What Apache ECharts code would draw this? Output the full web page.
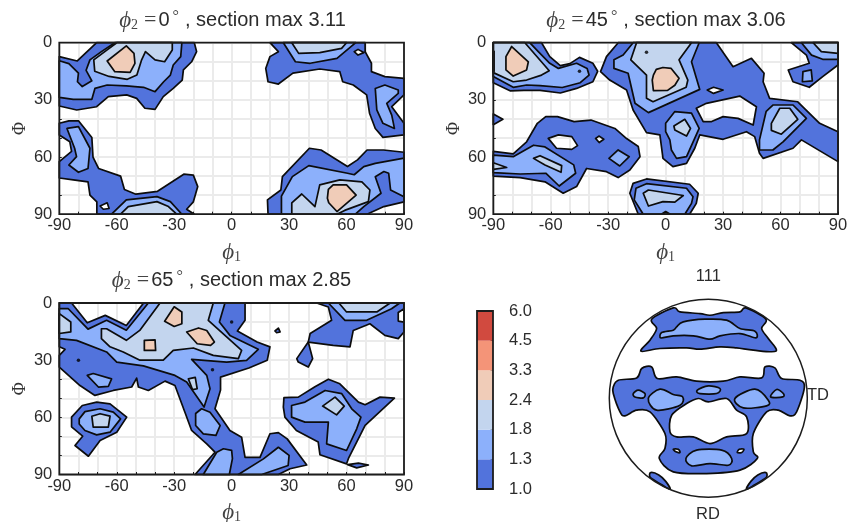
<!DOCTYPE html>
<html><head><meta charset="utf-8">
<style>html,body{margin:0;padding:0;background:#fff}#c{width:856px;height:522px}</style>
<script src="https://cdn.jsdelivr.net/npm/echarts@6/dist/echarts.min.js"></script>
</head><body><div id="c"></div>
<script>
// contour level fills and colour-bar ticks
const levelColors = ['#5273dc','#8cb0fb','#c3d5ee','#f0ccb8','#f49478','#d14a3f'];
const colorbarTicks = ['1.0','1.3','1.8','2.4','3.3','4.5','6.0'];
const phi1Ticks = [-90,-60,-30,0,30,60,90];
const PhiTicks = [0,30,60,90];
const sectionPhi2 = ['0','45','65'];
const sectionMax = ['3.11','3.06','2.85'];

// ---- section phi2 = 0 : [phi1, Phi]
const s0_a1=[[-90,7.3],[-80.6,9.6],[-70.5,0],[-19.5,0],[-18.3,4.7],[-20.9,10],[-25.2,14.3],[-25.8,19.6],[-30.5,24],[-35.7,28.3],[-40,35],[-45.3,34.4],[-49.6,29.2],[-54.8,27.4],[-64.4,28.3],[-70.5,33.6],[-80.9,35.3],[-90,33.2]];
const s0_a2=[[-90,9.5],[-85,11],[-80,16],[-80.5,20.5],[-78,23],[-73,20],[-76,14.5],[-74,9],[-68,4.7],[-61,0],[-26,0],[-26.6,7.3],[-30.5,11.7],[-32,17],[-35.5,20.5],[-40,25.7],[-46,23.4],[-55,22.7],[-65,22.2],[-71.4,24],[-73,29.7],[-82.7,29.7],[-90,28.7]];
const s0_a3=[[-72,9],[-65,3.8],[-60,0],[-31,0],[-31,3.8],[-35,10],[-40,9],[-45,4.7],[-47,9],[-49.5,17],[-54.5,19.2],[-64,17.7],[-71.5,15]];
const s0_a4=[[-65,9.6],[-55,1.7],[-51,5.6],[-50.5,10.8],[-53,15.6],[-61,15.2]];
const s0_b1=[[20,0],[69.7,0],[69.7,4.7],[73,10.8],[73,15.2],[80,17.8],[90,18.7],[90,27.4],[83.6,33.6],[90,42.3],[90,48.4],[79,49.7],[75,45],[72,37],[70.5,27.4],[63.5,22.2],[58,20.5],[56.5,15.2],[46,13.8],[32,16],[24.4,21.7],[19,20.5],[17.8,13.5],[20,7.3],[24.4,4.7]];
const s0_b1h=[[64,4.7],[66,3.5],[69,5.2],[66,6.5]];
const s0_b2=[[27,0],[33.3,10],[41,10.8],[55,8.2],[64.8,0]];
const s0_b3=[[31.4,0],[35,5.6],[46,5.2],[57.4,3],[60,0]];
const s0_c2=[[75,24],[80,22.2],[87,24.8],[87,26.6],[81,31.8],[83.6,38],[85,45],[79,42.3],[75.8,35.3]];
const s0_d1=[[-90,42.3],[-85,41],[-80,41],[-73,49.7],[-72.4,60],[-69.5,66],[-58,70],[-56,77],[-50,79.5],[-38.7,78],[-25,69],[-20,69.5],[-17.7,75.5],[-20,83.5],[-23.5,87.4],[-19.5,90],[-70.4,90],[-70.4,83.5],[-74,80],[-75,73],[-82.7,72],[-90,71],[-90,62.4],[-83.6,57],[-84.5,52],[-90,48.4]];
const s0_d1h=[[-68.7,85.7],[-65,84],[-64,87],[-67,87.4]];
const s0_d2=[[-86,45],[-80,44],[-74,55.4],[-75,66],[-80,68],[-85,64.2],[-81,59.8],[-82,55.4]];
const s0_e2=[[-62.7,90],[-55,82.5],[-39,80.8],[-32,83.4],[-26,90]];
const s0_e3=[[-58,90],[-54,86],[-39,83.4],[-33,86],[-28.7,90]];
const s0_f1=[[19,90],[18.7,82.5],[25.7,77.3],[26.5,70.3],[40.6,55.4],[46.7,56.3],[60.5,65],[65.7,61.5],[70.7,56.3],[79.3,56.3],[90,57.5],[90,83.5],[79.5,86],[70.7,90]];
const s0_f2=[[26,90],[26,80.5],[31.7,70.3],[40.3,64.5],[60.5,68.5],[64,69.3],[69,65],[75,63.3],[90,60.6],[90,80.8],[83,77.3],[82,68.5],[79.5,67.6],[75,70.3],[78,79],[69,86],[64.6,90]];
const s0_f3=[[31.4,90],[31.4,84],[36.6,79.4],[43.5,86],[46,74.6],[56.5,72],[68,73],[72.2,77.3],[71.4,83.4],[59,88],[55,90]];
const s0_f4=[[50,81.6],[50.5,77],[53,74.6],[60,74.6],[65,80],[60,84.3],[55,88.6],[50.7,84]];

// ---- section phi2 = 45
const s1_a1=[[-90,0],[-64.8,0],[-60.5,7.3],[-55,12],[-50,11],[-45,7.7],[-38,10.8],[-35.5,15],[-38,20.5],[-46.5,24],[-55,26.4],[-65.6,25],[-74,25],[-81,25.3],[-90,21]];
const s1_a2=[[-90,0],[-71,0],[-66.5,4.7],[-60.5,10.8],[-56,13.5],[-46.5,10.8],[-41,13.5],[-40,17],[-44.6,21],[-54,23.5],[-65.6,22.5],[-72.6,22.2],[-79.6,23.4],[-90,17.8]];
const s1_a3=[[-90,0],[-73.5,0],[-60.8,14.7],[-64.8,17],[-72.6,19.6],[-79.6,20.5],[-90,15.7]];
const s1_a4=[[-80.4,2],[-71.7,10],[-72.6,14.3],[-79.6,17.5],[-83.4,14.3],[-83.4,7.3]];
const s1_a4b=[[-90,4.5],[-89.6,4.5],[-89.6,15],[-90,15]];
const s1_b1=[[-24.8,0],[-30.9,7.3],[-34,15.2],[-29.2,19.6],[-20.4,24.8],[-17,35.3],[-10,47.2],[-3,48.4],[-2.2,54.5],[-1.4,60.7],[3.8,65],[10.9,63.3],[15.2,55.4],[17.8,48.4],[30,50.7],[42.2,46.7],[46.5,49.3],[49,58],[50.9,60.7],[66.5,55.4],[70.9,51],[90,62.4],[90,46.7],[80.4,42.3],[69,31],[54.3,29.2],[50.9,20.5],[51.4,16],[44.8,8.2],[35.2,12.6],[26.5,0]];
const s1_b1h=[[16,34.4],[21.3,31.8],[38.7,28],[47.4,33.6],[45.7,43.2],[37.8,39.7],[30,38.8],[24,41.4],[19.6,41.4]];
const s1_b1k=[[21.7,24.8],[25,23.4],[30,24.8],[25,26.6]];
const s1_b2=[[-17,0],[-22.2,6.5],[-27,9],[-27,13.5],[-19.6,16],[-16,31.8],[-9,36.7],[17.8,24.5],[13.5,10],[17.5,0]];
const s1_b3=[[-15.2,0],[-18.2,9],[-10,17],[-10,29.2],[-6.6,31],[10.7,23.4],[11.6,19.6],[7,9],[13.5,0]];
const s1_b4=[[-4.9,14],[-1.4,13],[2.9,13.5],[7,18.7],[4.8,22.3],[1,25],[-6.4,25.2],[-7,19.6],[-6.4,17]];
const s1_c2=[[0,42.3],[4.7,36.2],[13.5,37],[17.5,45],[10.9,59.8],[5.7,60.7],[3,56.3],[2.2,51],[0,46.7]];
const s1_c3=[[4.3,43.7],[10,40.2],[13,45],[10.9,49],[4.8,45.8]];
const s1_d2=[[49,51],[52.5,36],[56,32.7],[66.5,32.7],[73.5,39.7],[61.3,52],[56,56.3],[49,56.3]];
const s1_d3=[[55.2,42.3],[59.6,34.4],[64.8,34.4],[69,40.2],[60.4,48],[55.2,46]];
const s1_e1=[[65.6,0],[73.5,6.5],[75,10.8],[64,14.3],[66.5,20.5],[75,23.4],[82,17.8],[90,11.7],[90,0]];
const s1_e2=[[70.9,0],[76.2,6.5],[82,8.7],[90,8.7],[90,0]];
const s1_e3=[[77,0],[81.3,4.7],[90,5.6],[90,0]];
const s1_e2b=[[71.7,15.2],[76,14.3],[76.6,20],[71.4,20.5]];
const s1_f1=[[-90,37.4],[-85,40.2],[-90,43]];
const s1_g1=[[-90,57],[-79.6,58.3],[-72.6,52],[-67,42.3],[-62.6,38.8],[-56.5,38.8],[-47.8,41.4],[-39,40.6],[-26.5,45],[-20.4,50.3],[-14.3,54.5],[-13.4,59.8],[-18.7,66.8],[-24.8,70.8],[-30.9,67.7],[-41.3,66],[-46.5,75.5],[-53.5,79],[-63,73],[-76,70.8],[-90,70]];
const s1_g1h=[[-61.3,50.2],[-56,48.4],[-49,49.3],[-46,54],[-49,56],[-57,55.4]];
const s1_g1k=[[-36.6,50.2],[-34.7,49],[-32.3,50.7],[-34.7,52.4]];
const s1_g2=[[-90,59],[-79.6,59.8],[-69,53.8],[-63,54.7],[-48,64.1],[-47,68.5],[-55.6,75.2],[-62.6,68.5],[-76,68.9],[-90,68.2]];
const s1_g3=[[-69,60.7],[-65.6,59.3],[-54.3,64.5],[-54.6,68],[-63,64.2]];
const s1_g3b=[[-90,63],[-83,65.5],[-90,66.5]];
const s1_g2b=[[-29.6,60.7],[-24.8,56.3],[-19,59.8],[-24,64.7]];
const s1_h1=[[-14.3,90],[-18.7,79],[-17,73.8],[-10,71.5],[12.5,74.3],[17,79],[16,84.3],[12.5,90]];
const s1_h2=[[-11.7,90],[-16.4,82.5],[-15.5,76.4],[-10,74],[10.9,76.4],[14.3,80.8],[13.5,84.3],[10,90]];
const s1_h3=[[-11.7,79],[-9,77.3],[9.2,80.2],[4.8,83.7],[-1.4,83.4],[-9,85.7]];
const s1_h3b=[[-2.2,90],[0,88.6],[2.4,90]];
const s1_dots=[[-45,15],[-10,5]];

// ---- section phi2 = 65
const s2_a1=[[-90,0],[-83.6,0],[-75.4,10.4],[-66,6.5],[-55,11.8],[-46,0],[7,0],[7,9],[3,14.7],[13.3,20.5],[20,23],[18.6,30],[9,34.1],[-5.8,38.9],[-5.8,45.7],[-8.7,55.5],[-0.9,66.9],[5.2,70.4],[7,81],[14.8,81],[20,68.6],[24.4,68],[29,71.3],[39.2,85],[30.5,87],[24.4,90],[-19.1,90],[-8.7,78.3],[-13,73.9],[-20.9,66.9],[-24.4,57.3],[-29.6,43.3],[-34.8,41],[-43.5,45.9],[-48.7,44.1],[-49.6,39.4],[-52.2,44.1],[-61.8,45.9],[-71.4,48.5],[-79.2,43.3],[-90,33.6],[-90,27.5],[-87,24.3],[-90,23]];
const s2_a2=[[-90,3],[-85.3,3],[-75,13.7],[-65.3,9.1],[-55,14.3],[-43.5,0],[-3.5,0],[-6.4,10],[-0.9,17],[13.9,24.3],[7.8,30.1],[-2.6,31],[-20.9,29.6],[-13,38],[-11.3,45],[-14.4,54.6],[-23.5,41.5],[-29.6,38],[-46.1,33],[-60,31],[-65.3,25.7],[-81,19.6],[-90,18.7]];
const s2_a3=[[-68,13.5],[-65.3,13.5],[-55,19.6],[-48,14.4],[-37.4,0],[-9.6,0],[-12.2,9.1],[5.2,24.9],[3.5,29.2],[-9.6,27.5],[-20,23.6],[-30.5,24.9],[-35.7,30],[-47.9,30],[-56.6,25.7],[-63.5,23],[-68,18.7]];
const s2_a3b=[[-90,5.6],[-84,10],[-84,15.2],[-90,16]];
const s2_p1=[[-35,9.6],[-30,2],[-26,4.7],[-26,10.9],[-30,12.3]];
const s2_p2=[[-23.5,15.2],[-17.3,13.1],[-13,14.4],[-9,20.5],[-11,22.2],[-18,21.4]];
const s2_p3=[[-45.6,19.6],[-40,19.3],[-39.7,24.9],[-45.6,24.9]];
const s2_r3=[[-22.6,39.8],[-19,39],[-18,45],[-20.4,45.5]];
const s2_r2=[[-18.8,58],[-15.7,55.5],[-11.3,57.3],[-6,64.3],[-8.2,69.5],[-14.8,68.7],[-18.8,64.3]];
const s2_t2=[[-14.8,90],[-7.8,78.3],[-4.3,76.5],[0,77.3],[0.4,81.7],[-1.2,90]];
const s2_u2=[[3.5,90],[16.6,81.8],[24.4,75.7],[30,80],[29.5,85.3],[15.7,90]];
const s2_v2=[[-75.4,38],[-72.3,37],[-62.7,39.8],[-64.4,43.8],[-69.6,44.1]];
const s2_w1=[[-83.6,59.9],[-78,53.8],[-70.5,52],[-63.5,52.9],[-54.8,59.9],[-60,67.8],[-68.7,72.2],[-74.8,80.4],[-81.8,74.8],[-77.8,69.9],[-83.6,65]];
const s2_w2=[[-79.6,60.8],[-76.6,57],[-68.7,55.5],[-61.8,57.3],[-58,60.8],[-63.5,67.8],[-70.5,69.2],[-76.6,66.9],[-79.6,63.5]];
const s2_w3=[[-73,59.4],[-68.7,58.1],[-63.5,59.4],[-64.4,65.1],[-72.3,65.1]];
const s2_x1=[[44.4,0],[50.5,2.1],[52.2,9.1],[41,16],[40,20.5],[53,22.2],[61.8,23],[63.5,14.4],[72.2,10.9],[80,17],[87,18.7],[90,15.2],[90,0]];
const s2_x1h=[[90,3],[87,5],[87,9.5],[90,10]];
const s2_x2=[[50.5,0],[59.2,9.1],[70.5,9.1],[83.5,3],[87.8,0]];
const s2_x3=[[56,0],[60,4.7],[75.8,4.7],[82.8,0]];
const s2_y1=[[34,29.2],[40,20.5],[42.3,29.2],[40,33.6],[34.8,31]];
const s2_z1=[[22.6,14.7],[24.4,13.2],[25.3,15.2],[23.5,15.6]];
const s2_m1=[[27.3,49.7],[34.8,49.4],[43.5,44],[50.5,40],[56.5,42.4],[66.2,52],[69.7,53.4],[77.5,49.4],[85,49.9],[69.7,64.2],[61,81.6],[60,84.4],[46.1,79.6],[45.2,73],[33.8,66.9],[27.8,59.9],[27,54.6]];
const s2_m2=[[31.3,53.8],[38.3,52],[48.8,45.9],[57.5,47.6],[62.7,55.5],[67.5,59.9],[65.3,66],[60,77.4],[49.6,73.9],[50.5,62.5],[38.3,62.5],[31.3,59.9]];
const s2_m3=[[47.5,54.1],[54,49.4],[58.8,54.1],[54.8,58.7]];
const s2_l1=[[60.6,84.8],[66.2,84],[71.4,85],[65.3,86.5]];
const s2_dots=[[-80,30],[-10,35],[0,10]];

// ---- 111 pole figure, unit disc
const pf_top1=[[-0.354,0.912],[-0.286,0.872],[-0.084,0.855],[0.017,0.838],[0.152,0.865],[0.32,0.872],[0.38,0.912],[0.582,0.798],[0.539,0.704],[0.606,0.603],[0.684,0.475],[0.455,0.485],[0.286,0.508],[0.118,0.519],[-0.084,0.495],[-0.219,0.508],[-0.488,0.502],[-0.68,0.475],[-0.589,0.586],[-0.522,0.704],[-0.572,0.798]];
const pf_top2=[[-0.32,0.72],[-0.253,0.771],[-0.034,0.798],[0.185,0.788],[0.32,0.704],[0.471,0.677],[0.481,0.609],[0.32,0.653],[0.118,0.63],[0.017,0.596],[-0.152,0.63],[-0.354,0.63],[-0.478,0.609],[-0.471,0.663],[-0.354,0.687]];
const pf_mid1=[[-0.96,0.114],[-0.909,0.182],[-0.724,0.205],[-0.673,0.3],[-0.572,0.316],[-0.515,0.199],[-0.32,0.215],[-0.118,0.172],[0.152,0.172],[0.32,0.215],[0.539,0.205],[0.572,0.316],[0.673,0.306],[0.741,0.199],[0.926,0.182],[0.97,0.104],[0.892,-0.138],[0.825,-0.178],[0.707,-0.121],[0.589,-0.138],[0.455,-0.357],[0.455,-0.542],[0.495,-0.609],[0.32,-0.727],[-0.017,-0.761],[-0.354,-0.744],[-0.495,-0.609],[-0.438,-0.508],[-0.438,-0.357],[-0.589,-0.138],[-0.724,-0.121],[-0.842,-0.178],[-0.892,-0.138],[-0.96,0.047]];
const pf_hole=[[-0.37,-0.172],[-0.219,-0.054],[-0.101,-0.003],[0,-0.037],[0.185,-0.003],[0.286,-0.121],[0.387,-0.189],[0.387,-0.357],[0.185,-0.391],[0.017,-0.458],[-0.152,-0.391],[-0.32,-0.391],[-0.387,-0.34]];
const pf_tinyL=[[-0.354,-0.515],[-0.303,-0.515],[-0.286,-0.549],[-0.327,-0.542]];
const pf_tinyR=[[0.293,-0.549],[0.313,-0.515],[0.36,-0.515],[0.337,-0.549]];
const pf_i1=[[-0.758,0.047],[-0.707,0.081],[-0.64,0.047],[-0.657,0.003],[-0.741,0.013]];
const pf_i2=[[-0.606,-0.003],[-0.488,0.091],[-0.354,0.037],[-0.259,0.013],[-0.286,-0.071],[-0.522,-0.121]];
const pf_i3=[[-0.111,0.081],[0,0.125],[0.118,0.098],[0.084,0.047],[-0.084,0.047]];
const pf_i4=[[0.269,-0.003],[0.471,0.091],[0.606,-0.02],[0.589,-0.077],[0.354,-0.098]];
const pf_i5=[[0.63,0.013],[0.69,0.088],[0.758,0.047],[0.751,0.013]];
const pf_i6=[[-0.226,-0.609],[-0.118,-0.525],[0.135,-0.525],[0.236,-0.609],[0.202,-0.677],[0.017,-0.66],[-0.168,-0.684]];
const pf_wl=[[-0.582,-0.751],[-0.5,-0.775],[-0.43,-0.84],[-0.385,-0.92],[-0.47,-0.875],[-0.55,-0.825],[-0.59,-0.795]];
const pf_wr=[[0.385,-0.92],[0.43,-0.84],[0.5,-0.775],[0.582,-0.751],[0.59,-0.795],[0.55,-0.825],[0.47,-0.875]];

// contour regions per plot: [level, outer ring, ...hole rings]
const section0=[[0,s0_a1],[1,s0_a2],[2,s0_a3],[3,s0_a4],[0,s0_b1,s0_b1h],[1,s0_b2],[2,s0_b3],[1,s0_c2],[0,s0_d1,s0_d1h],[1,s0_d2],[1,s0_e2],[2,s0_e3],[0,s0_f1],[1,s0_f2],[2,s0_f3],[3,s0_f4]];
const section1=[[0,s1_a1],[1,s1_a2],[2,s1_a3],[3,s1_a4],[3,s1_a4b],[0,s1_b1,s1_b1h,s1_b1k],[1,s1_b2],[2,s1_b3],[3,s1_b4],[1,s1_c2],[2,s1_c3],[1,s1_d2],[2,s1_d3],[0,s1_e1],[1,s1_e2],[2,s1_e3],[1,s1_e2b],[0,s1_f1],[0,s1_g1,s1_g1h,s1_g1k],[1,s1_g2],[2,s1_g3],[2,s1_g3b],[1,s1_g2b],[0,s1_h1],[1,s1_h2],[2,s1_h3],[2,s1_h3b]];
const section2=[[0,s2_a1],[1,s2_a2],[2,s2_a3],[2,s2_a3b],[3,s2_p1],[3,s2_p2],[3,s2_p3],[2,s2_r3],[1,s2_r2],[1,s2_t2],[1,s2_u2],[1,s2_v2],[0,s2_w1],[1,s2_w2],[2,s2_w3],[0,s2_x1,s2_x1h],[1,s2_x2],[2,s2_x3],[0,s2_y1],[0,s2_z1],[0,s2_m1],[1,s2_m2],[2,s2_m3],[0,s2_l1]];
const poleFigure=[[0,pf_top1],[1,pf_top2],[0,pf_mid1,pf_hole,pf_tinyL,pf_tinyR],[1,pf_i1],[1,pf_i2],[1,pf_i3],[1,pf_i4],[1,pf_i5],[1,pf_i6],[0,pf_wl],[0,pf_wr]];

const INK='#1c1c1c', TXT='#2b2b2b', SANS='"Liberation Sans",Arial,sans-serif', SERIF='"Liberation Serif",serif';
const plots=[{l:59.3,t:42.7},{l:493.3,t:42.7},{l:59.3,t:303}];
const PW=344.7, PH=171.5;

function signedArea(p){let a=0;for(let i=0;i<p.length;i++){const q=p[(i+1)%p.length];a+=p[i][0]*q[1]-q[0]*p[i][1];}return a;}
function ringPath(pts,wantPositive,smooth){
  let p=pts.slice();
  if((signedArea(p)>0)!==wantPositive)p.reverse();
  const f=v=>v.toFixed(2);
  if(!smooth)return 'M'+p.map(q=>f(q[0])+' '+f(q[1])).join('L')+'Z';
  const n=p.length,T=0.16;
  let d='M'+f(p[0][0])+' '+f(p[0][1]);
  for(let i=0;i<n;i++){
    const p0=p[(i-1+n)%n],p1=p[i],p2=p[(i+1)%n],p3=p[(i+2)%n];
    d+='C'+f(p1[0]+(p2[0]-p0[0])*T)+' '+f(p1[1]+(p2[1]-p0[1])*T)+' '+f(p2[0]-(p3[0]-p1[0])*T)+' '+f(p2[1]-(p3[1]-p1[1])*T)+' '+f(p2[0])+' '+f(p2[1]);
  }
  return d+'Z';
}
function regionSeries(g,region,smooth){
  const level=region[0],rings=region.slice(1);
  return {type:'custom',coordinateSystem:'cartesian2d',xAxisIndex:g,yAxisIndex:g,silent:true,clip:false,
    data:rings.flat(),
    renderItem:(params,api)=>{
      if(params.dataIndex!==0)return null;
      const d=rings.map((r,i)=>ringPath(r.map(v=>api.coord(v)),i===0,smooth)).join('');
      return {type:'path',shape:{pathData:d},style:{fill:levelColors[level],stroke:'#0c0c0c',lineWidth:1.7,lineJoin:'round'}};
    }};
}
function frameSeries(g,corners,lw){
  return {type:'custom',coordinateSystem:'cartesian2d',xAxisIndex:g,yAxisIndex:g,silent:true,clip:false,z:5,
    data:corners,
    renderItem:(params,api)=>{
      if(params.dataIndex!==0)return null;
      const a=api.coord(corners[0]),b=api.coord(corners[1]);
      return {type:'rect',shape:{x:Math.min(a[0],b[0]),y:Math.min(a[1],b[1]),width:Math.abs(a[0]-b[0]),height:Math.abs(a[1]-b[1])},style:{fill:null,stroke:INK,lineWidth:lw}};
    }};
}
function dots(g,d){return {type:'scatter',xAxisIndex:g,yAxisIndex:g,silent:true,symbolSize:3.5,z:4,itemStyle:{color:'#000'},data:d};}

const grids=[],xAxes=[],yAxes=[],series=[],titles=[];
const titleRich={
  phi:{fontFamily:SERIF,fontStyle:'italic',fontSize:23,color:'#444'},
  sub:{fontFamily:SERIF,fontSize:14,color:'#444',verticalAlign:'bottom',padding:[8,0,0,0]},
  eq:{fontFamily:SERIF,fontSize:22,color:'#444',padding:[0,2,0,6]},
  deg:{fontFamily:SERIF,fontSize:16,color:'#444',padding:[0,6,7,3]}
};
const titleCx=[227.5,661,226.5], titleTop=[4,4,264];
plots.forEach((p,i)=>{
  grids.push({left:p.l,top:p.t,width:PW,height:PH,show:false,outerBoundsMode:'none'});
  xAxes.push({gridIndex:i,type:'value',position:'bottom',min:-90,max:90,interval:10,
    axisLine:{show:false,onZero:false},axisTick:{show:true,inside:true,length:2.5,lineStyle:{color:INK,width:1}},
    splitLine:{show:true,lineStyle:{color:'#ebebeb',width:2}},
    axisLabel:{margin:3,fontSize:16.5,fontFamily:SANS,color:TXT,showMinLabel:true,showMaxLabel:true,hideOverlap:false,formatter:v=>phi1Ticks.includes(v)?String(v):''},
    name:'{p|ϕ}{s|1}',nameLocation:'middle',nameGap:27,
    nameTextStyle:{rich:{p:{fontFamily:SERIF,fontStyle:'italic',fontSize:23,color:'#444'},s:{fontFamily:SERIF,fontSize:14,color:'#444',verticalAlign:'bottom',padding:[8,0,0,0]}}}});
  yAxes.push({gridIndex:i,type:'value',position:'left',min:0,max:90,interval:10,inverse:true,
    axisLine:{show:false,onZero:false},axisTick:{show:true,inside:true,length:2.5,lineStyle:{color:INK,width:1}},
    splitLine:{show:true,lineStyle:{color:'#ebebeb',width:2}},
    axisLabel:{margin:7,fontSize:16.5,fontFamily:SANS,color:TXT,padding:[3,0,0,0],formatter:v=>PhiTicks.includes(v)?String(v):''},
    name:'Φ',nameLocation:'middle',nameGap:30,nameTextStyle:{fontFamily:SERIF,fontSize:18,color:'#333'}});
  titles.push({left:titleCx[i],top:titleTop[i],textAlign:'center',
    text:'{phi|ϕ}{sub|2}{eq|=}'+sectionPhi2[i]+'{deg|°}, section max '+sectionMax[i],
    textStyle:{fontFamily:SANS,fontSize:20,fontWeight:'normal',color:TXT,rich:titleRich}});
});
[section0,section1,section2].forEach((sec,g)=>{
  sec.forEach(r=>series.push(regionSeries(g,r,false)));
});
series.push(dots(1,s1_dots),dots(2,s2_dots));
[0,1,2].forEach(g=>series.push(frameSeries(g,[[-90,0],[90,90]],1.8)));

// colour bar, grid 3
grids.push({left:477,top:311,width:16,height:178,show:false,outerBoundsMode:'none'});
xAxes.push({gridIndex:3,type:'value',min:0,max:1,show:false});
yAxes.push({gridIndex:3,type:'value',min:0,max:6,interval:1,position:'right',
  axisLine:{show:false,onZero:false},axisTick:{show:true,inside:true,length:2.5,lineStyle:{color:INK}},splitLine:{show:false},
  axisLabel:{margin:16,fontSize:16.5,fontFamily:SANS,color:TXT,padding:[3,0,0,0],formatter:v=>colorbarTicks[v]}});
series.push({type:'custom',coordinateSystem:'cartesian2d',xAxisIndex:3,yAxisIndex:3,silent:true,z:1,
  data:levelColors.map((c,i)=>[0,i]),
  renderItem:(params,api)=>{
    const a=api.coord([0,api.value(1)]),b=api.coord([1,api.value(1)+1]);
    return {type:'rect',shape:{x:a[0],y:b[1],width:b[0]-a[0],height:a[1]-b[1]},style:{fill:levelColors[params.dataIndex]}};
  }});
series.push(frameSeries(3,[[0,0],[1,6]],1.8));

// pole figure, grid 4
grids.push({left:609.3,top:299.2,width:198,height:198,show:false,outerBoundsMode:'none'});
xAxes.push({gridIndex:4,type:'value',min:-1,max:1,show:false});
yAxes.push({gridIndex:4,type:'value',min:-1,max:1,show:false});
poleFigure.forEach(r=>series.push(regionSeries(4,r,true)));
series.push({type:'custom',coordinateSystem:'cartesian2d',xAxisIndex:4,yAxisIndex:4,silent:true,clip:false,z:5,
  data:[[0,0,1]],
  renderItem:(params,api)=>{
    const c=api.coord([0,0]),s=api.size([1,1]);
    return {type:'circle',shape:{cx:c[0],cy:c[1],r:s[0]},style:{fill:null,stroke:INK,lineWidth:1.5}};
  }});
[['111',703.3,263],['TD',813,382],['RD',703,501]].forEach(t=>titles.push({text:t[0],left:t[1],top:t[2],textAlign:'center',textStyle:{fontFamily:SANS,fontSize:16.5,fontWeight:'normal',color:TXT}}));

const chart=echarts.init(document.getElementById('c'),null,{renderer:'canvas'});
chart.setOption({animation:false,backgroundColor:'#fff',title:titles,grid:grids,xAxis:xAxes,yAxis:yAxes,series:series});
</script></body></html>
